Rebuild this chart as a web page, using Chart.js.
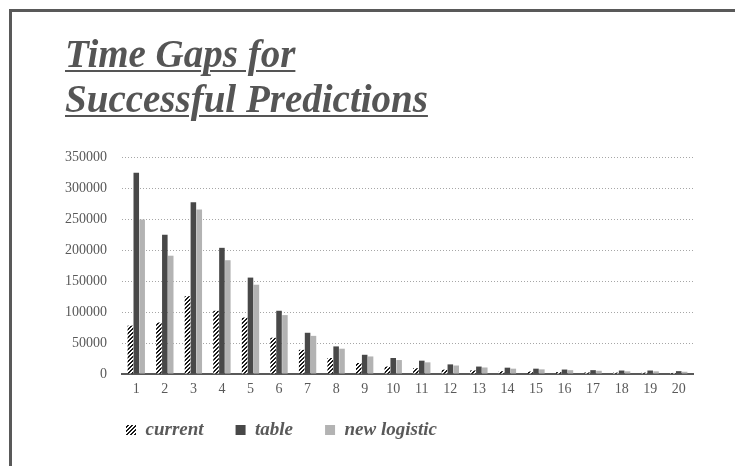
<!DOCTYPE html>
<html>
<head>
<meta charset="utf-8">
<title>Time Gaps for Successful Predictions</title>
<script src="https://cdn.jsdelivr.net/npm/chart.js@4/dist/chart.umd.min.js"></script>
<style>
  html, body { margin: 0; padding: 0; background: #fff; }
  #page { position: relative; width: 735px; height: 466px; overflow: hidden; background: #fff; }
  #frame {
    position: absolute; left: 9px; top: 9px; width: 740px; height: 470px;
    border-top: 3px solid #595959; border-left: 3px solid #595959; box-sizing: border-box;
  }
  #wrap { position: absolute; left: 0; top: 0; width: 735px; height: 466px; }
  #title {
    position: absolute; left: 65px; top: 31px; margin: 0;
    font-family: 'Liberation Serif', 'Times New Roman', serif;
    font-weight: bold; font-style: italic; font-size: 39px; line-height: 45px;
    color: #555555; text-decoration: underline;
    text-decoration-thickness: 2px; text-underline-offset: 3px;
  }
</style>
</head>
<body>
<div id="page">
  <div id="frame"></div>
  <div id="wrap"><canvas id="chart"></canvas></div>
  <h1 id="title">Time Gaps for<br>Successful Predictions</h1>
</div>
<script>
// Gap sizes (categories 1..20) and the number of successful predictions per gap
const categories = ['1','2','3','4','5','6','7','8','9','10','11','12','13','14','15','16','17','18','19','20'];
const seriesNames = ['current', 'table', 'new logistic'];
const currentCounts  = [78000, 83000, 125500, 102000, 91000, 58500, 39000, 25800, 17700, 12000, 9300, 7000, 5800, 4500, 4000, 3000, 2500, 2200, 2200, 1700];
const tableCounts    = [324500, 224500, 277000, 203500, 155500, 102000, 66500, 44500, 31000, 25800, 21500, 15500, 12000, 10200, 8600, 7200, 6200, 5600, 5600, 4600];
const logisticCounts = [249000, 190800, 265500, 183500, 144000, 95000, 61500, 40800, 28300, 22500, 18800, 13700, 10500, 8600, 7500, 6200, 5200, 4300, 4300, 3600];
const yMax = 350000;
const yStep = 50000;

const SERIF = "'Liberation Serif', 'Times New Roman', serif";
const INK = '#595959';

// Crisp "/" diagonal hatch fill for the "current" series
function makeHatch() {
  const n = 4;
  const c = document.createElement('canvas');
  c.width = n; c.height = n;
  const g = c.getContext('2d');
  g.fillStyle = '#ffffff';
  g.fillRect(0, 0, n, n);
  g.fillStyle = '#1a1a1a';
  for (let x = 0; x < n; x++) {
    for (let y = 0; y < n; y++) {
      const k = (x + y) % n;
      if (k === 0 || k === 1) g.fillRect(x, y, 1, 1);
    }
  }
  return g.createPattern(c, 'repeat');
}

// Places the legend row under the axis labels, aligned with the first bar group
const LEGEND_X = 126;
const LEGEND_TEXT_Y = 430;
const legendPlacer = {
  id: 'legendPlacer',
  afterLayout(chart) {
    const lg = chart.legend;
    if (!lg) return;
    const pad = lg.options.labels.padding;
    const size = lg.options.labels.font.size;
    const w = lg.width, h = lg.height;
    lg.left = LEGEND_X - pad;
    lg.right = lg.left + w;
    lg.top = LEGEND_TEXT_Y - size / 2 - pad;
    lg.bottom = lg.top + h;
  }
};

new Chart(document.getElementById('chart'), {
  type: 'bar',
  data: {
    labels: categories,
    datasets: [
      { label: seriesNames[0], data: currentCounts, backgroundColor: makeHatch() },
      { label: seriesNames[1], data: tableCounts, backgroundColor: '#484848' },
      { label: seriesNames[2], data: logisticCounts, backgroundColor: '#b3b3b3' }
    ]
  },
  options: {
    responsive: true,
    maintainAspectRatio: false,
    animation: false,
    devicePixelRatio: 1,
    categoryPercentage: 0.62,
    barPercentage: 0.94,
    layout: { padding: { left: 0, right: 42, top: 157, bottom: 1 } },
    plugins: {
      title: { display: false },
      tooltip: { enabled: false },
      legend: {
        display: true,
        position: 'bottom',
        align: 'start',
        labels: {
          boxWidth: 10,
          boxHeight: 10,
          padding: 32,
          color: INK,
          font: { family: SERIF, size: 19, style: 'italic', weight: 'bold' }
        }
      }
    },
    scales: {
      x: {
        grid: { display: false, drawTicks: false },
        border: { display: true, color: INK, width: 2 },
        afterFit(scale) { scale.height = 30; },
        ticks: {
          color: INK,
          padding: 7,
          maxRotation: 0,
          autoSkip: false,
          font: { family: SERIF, size: 14 }
        }
      },
      y: {
        min: 0,
        max: yMax,
        grid: { color: '#a6a6a6', lineWidth: 1, drawTicks: false },
        border: { display: false, dash: [1, 2] },
        afterFit(scale) { scale.width = 122; },
        ticks: {
          stepSize: yStep,
          color: INK,
          padding: 15,
          font: { family: SERIF, size: 14 },
          callback: (v) => String(v)
        }
      }
    }
  },
  plugins: [legendPlacer]
});
</script>
</body>
</html>
